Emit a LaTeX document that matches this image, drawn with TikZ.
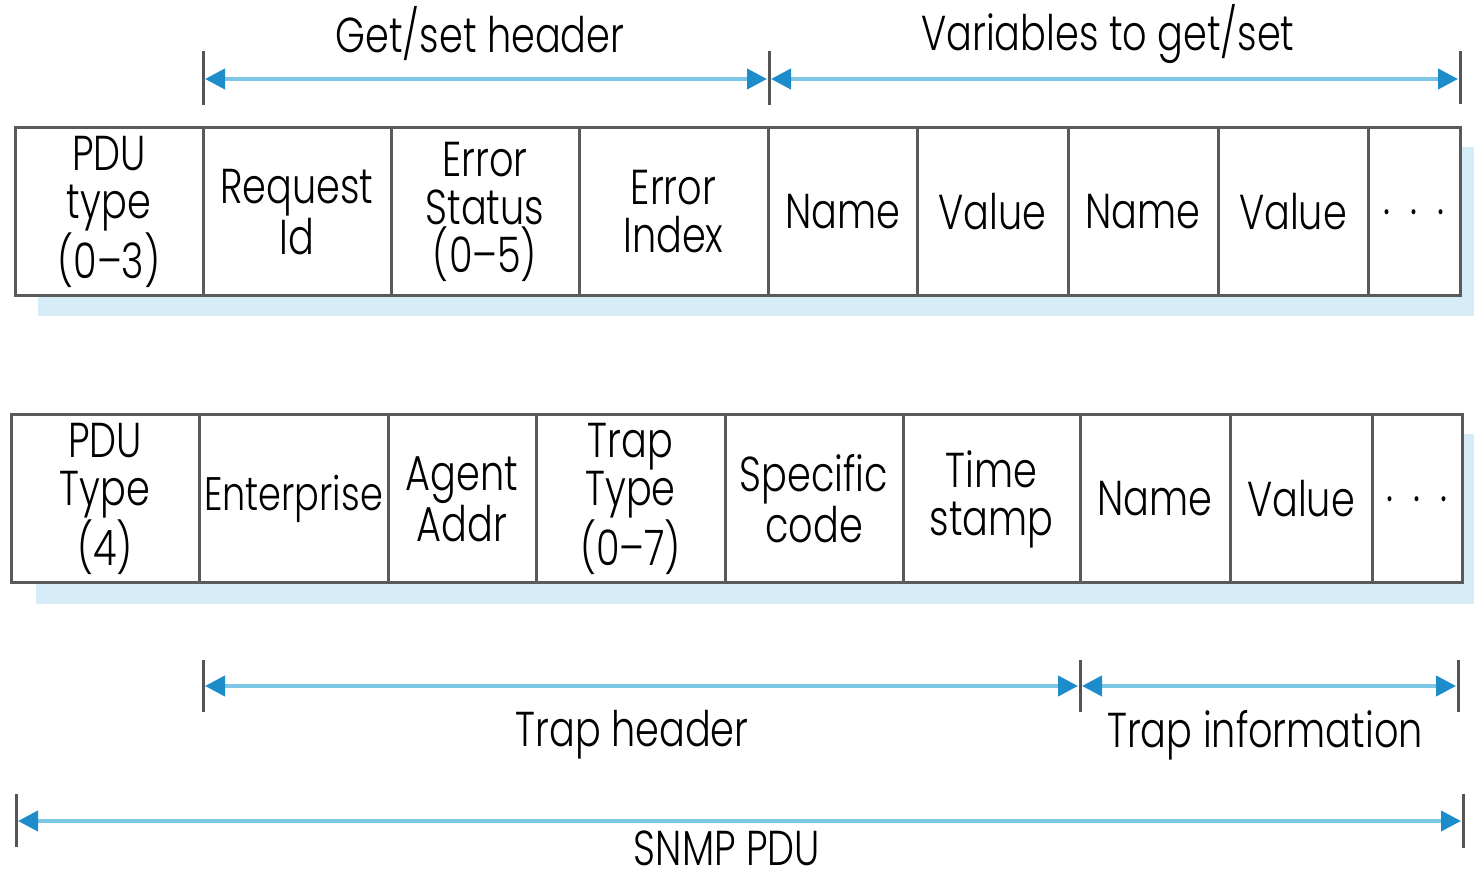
\documentclass[tikz,border=0pt]{standalone}
\usepackage{fontspec}
\setmainfont{Poppins}[UprightFont=* Light, FakeStretch=0.78]
\usetikzlibrary{arrows.meta}
\definecolor{boxgray}{HTML}{5A5A5A}
\definecolor{shadowblue}{HTML}{D6ECF6}
\definecolor{linelblue}{HTML}{7CC6E6}
\definecolor{headblue}{HTML}{1C8CCB}
\definecolor{tickgray}{HTML}{555555}
\tikzset{
  cell/.style={draw=boxgray, fill=white, line width=1.5pt, inner sep=0pt, align=center,
    font=\fontsize{24.5}{24}\selectfont, minimum height=84pt},
  dim/.style={draw=linelblue, line width=2pt,
    {Triangle[length=10pt,width=10pt,color=headblue]}-{Triangle[length=10pt,width=10pt,color=headblue]}},
  tick/.style={draw=tickgray, line width=1.5pt},
  lbl/.style={font=\fontsize{24.5}{25}\selectfont, inner sep=0pt}
}
\newcommand{\mydots}{.\hspace{0.4em}.\hspace{0.4em}.}
\begin{document}
\begin{tikzpicture}[x=0.5pt,y=-0.5pt]
\useasboundingbox (0,0) rectangle (1474,876);
% shadows
\fill[shadowblue] (38,147) rectangle (1480,316);
\fill[shadowblue] (36,434) rectangle (1480,604);
% top row
\node[cell, minimum width=94pt]   (t1) at (109,212)   {PDU\\type\\(0–3)};
\node[cell, minimum width=94pt]   (t2) at (297,212)   {Request\\Id};
\node[cell, minimum width=94pt]   (t3) at (485,212)   {Error\\Status\\(0–5)};
\node[cell, minimum width=94.5pt] (t4) at (673.5,212) {Error\\Index};
\node[cell, minimum width=74.5pt] (t5) at (842.5,212) {Name};
\node[cell, minimum width=75.5pt] (t6) at (992.5,212) {Value};
\node[cell, minimum width=75pt]   (t7) at (1143,212)  {Name};
\node[cell, minimum width=75pt]   (t8) at (1293,212)  {Value};
\node[cell, minimum width=46pt]   (t9) at (1414,212)  {\mydots};
% bottom row
\node[cell, minimum width=94pt]   (b1) at (105,499)   {PDU\\Type\\(4)};
\node[cell, minimum width=94.5pt] (b2) at (293.5,499) {\fontsize{23.5}{24}\selectfont Enterprise};
\node[cell, minimum width=74pt]   (b3) at (462,499)   {Agent\\Addr};
\node[cell, minimum width=94.5pt] (b4) at (630.5,499) {Trap\\Type\\(0–7)};
\node[cell, minimum width=89pt]   (b5) at (814,499)   {Specific\\code};
\node[cell, minimum width=88.5pt] (b6) at (991.5,499) {Time\\stamp};
\node[cell, minimum width=75pt]   (b7) at (1155,499)  {Name};
\node[cell, minimum width=71pt]   (b8) at (1301,499)  {Value};
\node[cell, minimum width=45pt]   (b9) at (1417,499)  {\mydots};
% top dimension lines
\coordinate (ga) at (203,79);
\coordinate (gb) at (769,79);
\coordinate (gc) at (1460,79);
\draw[tick] (203,51) -- (203,105);
\draw[tick] (769,51) -- (769,105);
\draw[tick] (1460,51) -- (1460,104);
\draw[dim] ([xshift=1pt]ga) -- ([xshift=-1pt]gb);
\draw[dim] ([xshift=1pt]gb) -- ([xshift=-1pt]gc);
\node[lbl] (lg) at (480,34) {Get/set header};
\node[lbl] (lv) at (1108,34) {Variables to get/set};
% trap dimension lines
\coordinate (ta) at (203,686);
\coordinate (tb) at (1080,686);
\coordinate (tc) at (1458,686);
\draw[tick] (203,660) -- (203,712);
\draw[tick] (1080,660) -- (1080,712);
\draw[tick] (1458,660) -- (1458,712);
\draw[dim] ([xshift=1pt]ta) -- ([xshift=-1pt]tb);
\draw[dim] ([xshift=1pt]tb) -- ([xshift=-1pt]tc);
\node[lbl] (lth) at (632,735) {Trap header};
\node[lbl] (lti) at (1265,735) {Trap information};
% SNMP PDU
\coordinate (sa) at (16,821);
\coordinate (sb) at (1463,821);
\draw[tick] (16,794) -- (16,847);
\draw[tick] (1463,794) -- (1463,848);
\draw[dim] ([xshift=1pt]sa) -- ([xshift=-1pt]sb);
\node[lbl] (ls) at (727,848) {SNMP PDU};
\end{tikzpicture}
\end{document}
